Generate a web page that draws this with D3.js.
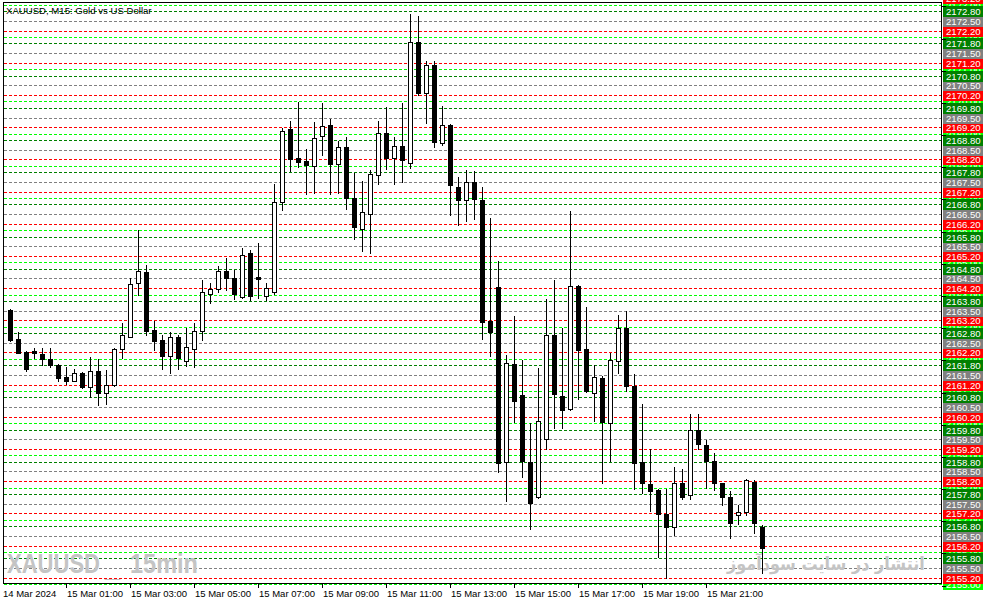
<!DOCTYPE html>
<html><head><meta charset="utf-8">
<script src="https://cdn.jsdelivr.net/npm/d3@7/dist/d3.min.js"></script>
<style>body{margin:0;background:#fff}svg{display:block}</style>
</head><body>
<svg id="c" width="994" height="605"></svg>
<script>
const title = "XAUUSD, M15:  Gold vs US Dollar";
const open = [2163.52,2162.61,2162.21,2162.24,2162.15,2162.00,2161.81,2161.44,2161.32,2161.55,
2161.13,2161.63,2160.95,2161.19,2162.30,2162.69,2164.35,2164.70,2162.90,2162.59,
2162.10,2162.67,2161.94,2162.32,2162.87,2164.01,2164.17,2164.73,2164.51,2163.93,
2165.28,2164.55,2163.95,2164.08,2166.86,2169.14,2168.24,2168.15,2168.00,2168.93,
2169.27,2168.06,2168.58,2166.99,2166.04,2166.49,2167.72,2169.01,2168.24,2168.61,
2168.10,2171.84,2170.27,2171.13,2168.70,2169.27,2167.34,2166.93,2167.49,2166.94,
2163.18,2164.22,2158.80,2161.84,2160.88,2158.80,2157.70,2159.50,2162.74,2160.85,
2160.43,2164.26,2162.31,2160.93,2161.41,2160.00,2161.94,2162.95,2161.16,2158.80,
2158.11,2157.92,2157.18,2156.78,2158.13,2157.77,2159.79,2159.31,2158.84,2158.13,
2157.70,2157.15,2157.23,2158.17,2156.77];
const high = [2163.55,2162.83,2162.24,2162.33,2162.34,2162.34,2161.84,2161.74,2161.69,2161.59,
2162.07,2161.99,2161.65,2162.34,2163.10,2164.51,2166.00,2164.92,2163.19,2162.74,
2162.84,2162.73,2162.96,2163.10,2164.45,2164.36,2164.89,2165.13,2164.76,2165.44,
2165.38,2165.59,2164.36,2167.43,2169.18,2169.39,2169.98,2168.52,2169.35,2169.96,
2169.44,2168.77,2168.89,2167.78,2167.52,2167.87,2169.39,2169.82,2168.88,2169.95,
2172.72,2172.65,2171.26,2171.26,2169.86,2169.30,2167.65,2167.86,2167.84,2167.33,
2166.37,2165.03,2162.12,2163.33,2161.96,2160.02,2161.71,2163.85,2164.45,2162.95,
2166.59,2164.30,2163.60,2161.80,2161.47,2162.17,2163.36,2163.50,2161.53,2160.60,
2159.21,2157.96,2157.95,2158.65,2158.57,2160.28,2160.28,2159.48,2159.07,2158.14,
2157.90,2157.46,2158.27,2158.24,2156.84];
const low = [2162.55,2162.17,2161.63,2162.03,2161.82,2161.74,2161.32,2161.23,2161.31,2161.09,
2160.81,2160.57,2160.60,2161.16,2162.03,2162.67,2163.98,2162.73,2162.27,2161.69,
2161.57,2161.69,2161.78,2161.76,2162.59,2163.73,2164.08,2164.14,2163.85,2163.89,
2163.83,2163.89,2163.83,2164.02,2166.63,2167.85,2167.95,2167.11,2167.16,2168.34,
2167.11,2167.16,2166.65,2165.73,2165.36,2165.30,2167.44,2167.89,2167.44,2167.49,
2167.92,2170.20,2169.34,2168.59,2168.65,2166.48,2166.17,2166.29,2166.36,2162.63,
2162.09,2158.49,2157.59,2160.05,2158.32,2156.70,2157.68,2159.19,2159.85,2159.86,
2160.41,2160.74,2160.97,2160.08,2158.15,2158.83,2161.57,2161.01,2157.97,2157.84,
2157.28,2155.83,2155.18,2156.53,2157.65,2157.65,2159.19,2157.98,2157.92,2157.46,
2156.42,2156.87,2157.15,2156.58,2155.35];
const close = [2162.59,2162.19,2161.69,2162.17,2161.99,2161.80,2161.41,2161.32,2161.55,2161.13,
2161.63,2160.95,2161.19,2162.30,2162.74,2164.33,2164.73,2162.87,2162.56,2162.10,
2162.67,2162.03,2162.36,2162.87,2164.07,2164.17,2164.73,2164.51,2164.02,2165.23,
2163.95,2164.47,2164.20,2166.86,2169.08,2168.20,2168.13,2168.01,2168.85,2169.24,
2168.06,2168.57,2166.99,2166.11,2166.55,2167.73,2169.01,2168.24,2168.61,2168.17,
2171.84,2170.27,2171.13,2168.75,2169.27,2167.41,2166.93,2167.50,2166.96,2163.15,
2162.84,2158.75,2161.86,2160.70,2158.83,2157.51,2160.07,2162.74,2160.90,2160.41,
2164.26,2162.27,2161.01,2161.44,2160.03,2161.96,2162.95,2161.16,2158.77,2158.15,
2157.90,2157.18,2156.78,2158.13,2157.70,2159.79,2159.34,2158.84,2158.13,2157.70,
2156.89,2157.23,2158.24,2156.89,2156.11];
const firstDateLabel = "14 Mar 2024";
const timeTickIdx = [7,15,23,31,39,47,55,63,71,79,87];
const timeTickLabels = ["15 Mar 01:00","15 Mar 03:00","15 Mar 05:00","15 Mar 07:00","15 Mar 09:00","15 Mar 11:00","15 Mar 13:00","15 Mar 15:00","15 Mar 17:00","15 Mar 19:00","15 Mar 21:00"];
const levelOffsets = [0.0, 0.2, 0.5, 0.8];
const levelColors = ["#00ff00", "#ff0000", "#808080", "#008000"];
const watermarkLeft = ["XAUUSD", "_", "15min"];
const watermarkRight = "انتشار در سایت سودآموز";

const svg = d3.select("#c");
const P = {left: 3, right: 942, top: 2, bottom: 583};
const y = d3.scaleLinear().domain([2155.2, 2172.8]).range([577.7, 11.3]);
const x = d3.scaleLinear().domain([0, 94]).range([10, 762]);
const px = v => Math.round(v) + 0.5;

svg.append("rect").attr("width", 994).attr("height", 605).attr("fill", "#fff");

// grid levels
const levels = [];
d3.range(2155, 2174).forEach(n => levelOffsets.forEach((o, i) => {
  const v = +(n + o).toFixed(2);
  const yy = y(v);
  if (yy >= P.top - 6 && yy <= P.bottom + 6) levels.push({v, i, yy});
}));
svg.append("g").selectAll("line").data(levels.filter(d => d.yy >= P.top && d.yy <= P.bottom + 1.5)).join("line")
  .attr("x1", P.left + 1).attr("x2", P.right)
  .attr("y1", d => px(d.yy)).attr("y2", d => px(d.yy))
  .attr("stroke", d => levelColors[d.i]).attr("stroke-width", 1)
  .attr("stroke-dasharray", "3,2").attr("shape-rendering", "crispEdges");

// watermarks
const wm = svg.append("g").attr("fill", "#c4c4c4").attr("font-family", "Liberation Sans, Arial, sans-serif").attr("font-weight", "bold");
wm.append("text").attr("x", 7).attr("y", 573).attr("font-size", 28).attr("textLength", 93).attr("lengthAdjust", "spacingAndGlyphs").text(watermarkLeft[0]);
wm.append("text").attr("x", 105).attr("y", 577).attr("font-size", 14).attr("font-weight", "normal").attr("textLength", 15).attr("lengthAdjust", "spacingAndGlyphs").text(watermarkLeft[1]);
wm.append("text").attr("x", 130).attr("y", 573).attr("font-size", 28).attr("textLength", 68).attr("lengthAdjust", "spacingAndGlyphs").text(watermarkLeft[2]);
const fa = svg.append("text").attr("fill", "#c4c4c4")
  .attr("font-family", "DejaVu Sans, sans-serif").attr("font-weight", "bold").attr("font-size", 18)
  .attr("x", 0).attr("y", 0).text(watermarkRight);
const faW = fa.node().getComputedTextLength() || 198;
fa.attr("transform", `translate(727,570) scale(${198 / faW},1)`);

// candles
const data = open.map((o, i) => ({i, o, h: high[i], l: low[i], c: close[i]}));
const cg = svg.append("g").attr("shape-rendering", "crispEdges");
cg.selectAll("line.wick").data(data).join("line").attr("class", "wick")
  .attr("x1", d => px(x(d.i))).attr("x2", d => px(x(d.i)))
  .attr("y1", d => Math.round(y(d.h))).attr("y2", d => Math.round(y(d.l)) + 1)
  .attr("stroke", "#000");
cg.selectAll("rect.body").data(data).join("rect").attr("class", "body")
  .attr("x", d => Math.round(x(d.i)) - 2 + 0.5)
  .attr("y", d => Math.round(y(Math.max(d.o, d.c))) + 0.5)
  .attr("width", 4)
  .attr("height", d => Math.max(0, Math.round(y(Math.min(d.o, d.c))) - Math.round(y(Math.max(d.o, d.c)))))
  .attr("fill", d => d.c >= d.o ? "#fff" : "#000")
  .attr("stroke", "#000");

// title
svg.append("text").attr("x", 6).attr("y", 14).attr("font-family", "Liberation Sans, Arial, sans-serif")
  .attr("font-size", 9.6).attr("fill", "#000").text(title);

// border
svg.append("rect").attr("x", P.left + 0.5).attr("y", P.top + 0.5).attr("width", P.right - P.left - 1).attr("height", P.bottom - P.top)
  .attr("fill", "none").attr("stroke", "#000").attr("shape-rendering", "crispEdges");

// right price labels
const lg = svg.append("g").attr("font-family", "Liberation Sans, Arial, sans-serif").attr("font-size", 9.6);
const ordered = levels.filter(d => d.i === 0).concat(levels.filter(d => d.i !== 0));
const lab = lg.selectAll("g").data(ordered).join("g");
lab.append("rect").attr("x", 943).attr("y", d => Math.round(d.yy) - 5).attr("width", 40).attr("height", 11)
  .attr("fill", d => levelColors[d.i]);
lab.append("text").attr("x", 946).attr("y", d => Math.round(d.yy) + 4).attr("fill", "#fff").text(d => d.v.toFixed(2));
svg.append("g").selectAll("line").data(levels.filter(d => d.i === 0)).join("line")
  .attr("x1", P.right).attr("x2", P.right + 4).attr("y1", d => px(d.yy + 1.5)).attr("y2", d => px(d.yy + 1.5))
  .attr("stroke", "#000").attr("shape-rendering", "crispEdges");

// time axis
const tg = svg.append("g").attr("font-family", "Liberation Sans, Arial, sans-serif").attr("font-size", 9.5).attr("fill", "#000");
tg.append("text").attr("x", 3).attr("y", 597).text(firstDateLabel);
const tk = tg.selectAll("g.t").data(timeTickIdx).join("g").attr("class", "t");
tk.append("line").attr("x1", d => px(x(d))).attr("x2", d => px(x(d))).attr("y1", P.bottom).attr("y2", P.bottom + 5)
  .attr("stroke", "#000").attr("shape-rendering", "crispEdges");
tk.append("text").attr("x", d => Math.round(x(d)) + 1).attr("y", 597).text((d, i) => timeTickLabels[i]);
</script>
</body></html>
